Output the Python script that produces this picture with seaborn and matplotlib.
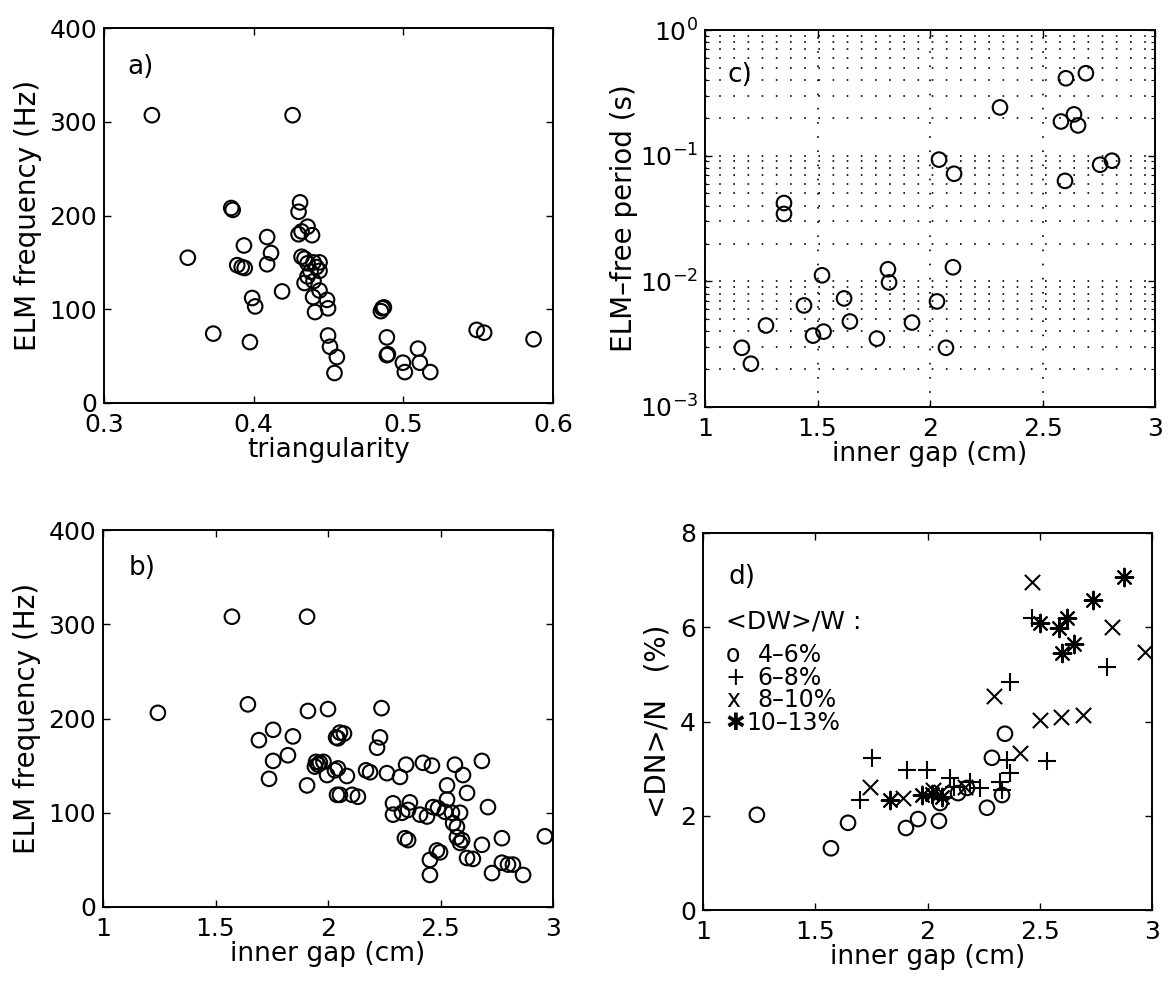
import matplotlib
matplotlib.use("Agg")
import matplotlib.pyplot as plt
import seaborn as sns
from matplotlib.ticker import LogLocator, NullFormatter, FixedLocator, FuncFormatter

# ---------------- data ----------------
# a) ELM frequency vs triangularity
tri_delta = [0.332, 0.426, 0.385, 0.386, 0.431, 0.430, 0.430, 0.432, 0.436, 0.439,
             0.409, 0.3935, 0.4116, 0.356, 0.409, 0.389, 0.392, 0.394,
             0.432, 0.434, 0.436, 0.440, 0.444, 0.444, 0.438, 0.434, 0.436, 0.440, 0.442,
             0.419, 0.399, 0.401, 0.4397, 0.441, 0.444, 0.449, 0.4497,
             0.373, 0.3975, 0.4497, 0.451, 0.4556, 0.454,
             0.486, 0.487, 0.485, 0.489, 0.4897, 0.489,
             0.4997, 0.501, 0.5098, 0.511, 0.518, 0.549, 0.554, 0.587]
tri_freq = [307, 307, 208, 206, 214, 204, 180, 183, 188, 179,
            177, 168, 160, 155, 148, 147, 145, 144,
            156, 154, 149, 150, 150, 141, 140, 128, 135, 130, 145,
            119, 112, 103, 113, 97, 120, 110, 101,
            74, 65, 72, 60, 49, 32,
            101, 102, 98, 70, 52, 51,
            43, 33, 58, 43, 33, 78, 75, 68]

# b) ELM frequency vs inner gap
gap_b = [1.573, 1.907, 1.244, 1.644, 1.911, 2.000, 2.238,
         1.756, 1.693, 1.844, 2.036, 2.053, 2.044, 2.071, 2.231, 2.218,
         1.756, 1.822, 1.738, 1.907,
         1.947, 1.964, 1.956, 1.942, 1.980, 1.996, 2.031, 2.044, 2.084,
         2.040, 2.053, 2.107, 2.133, 2.169, 2.187, 2.262, 2.320, 2.347,
         2.422, 2.462, 2.564, 2.684, 2.600, 2.529, 2.618, 2.529,
         2.289, 2.289, 2.364, 2.356, 2.329, 2.409, 2.440, 2.467, 2.489,
         2.520, 2.551, 2.587, 2.556, 2.573, 2.711,
         2.342, 2.356, 2.573, 2.596, 2.587, 2.684, 2.773, 2.964,
         2.484, 2.498, 2.453, 2.453, 2.618, 2.644, 2.729, 2.773, 2.800, 2.822, 2.867]
freq_b = [308, 308, 206, 215, 208, 210, 211,
          188, 177, 181, 180, 185, 179, 184, 180, 169,
          155, 161, 136, 129,
          154, 153, 151, 149, 154, 140, 145, 147, 139,
          119, 119, 119, 117, 145, 143, 142, 138, 151,
          153, 150, 151, 155, 140, 129, 121, 114,
          110, 98, 111, 103, 100, 98, 96, 106, 105,
          101, 100, 100, 89, 85, 106,
          73, 71, 74, 71, 68, 66, 73, 75,
          60, 58, 50, 34, 52, 51, 36, 47, 45, 45, 34]

# c) ELM-free period vs inner gap
gap_c = [2.604, 2.693, 2.311, 2.582, 2.640, 2.658,
         2.040, 2.107, 2.756, 2.809, 2.600,
         1.351, 1.351, 1.813, 1.818, 2.102, 1.520,
         1.618, 1.440, 2.031, 1.271, 1.644, 1.527,
         1.480, 1.920, 1.764, 2.071, 1.164, 1.204]
period_c = [0.413, 0.453, 0.242, 0.187, 0.213, 0.174,
            0.093, 0.0718, 0.0847, 0.0912, 0.063,
            0.042, 0.0344, 0.01247, 0.0098, 0.01294, 0.01117,
            0.00731, 0.00643, 0.00692, 0.00445, 0.00479, 0.00398,
            0.0037, 0.0047, 0.0035, 0.00296, 0.00296, 0.00221]

# d) density loss vs inner gap, grouped by energy loss <DW>/W
gap_d_4_6 = [1.24, 1.570, 1.646, 1.904, 1.958, 2.051, 2.056, 2.136, 2.176, 2.265, 2.332, 2.287, 2.345]
dn_d_4_6 = [2.02, 1.31, 1.85, 1.74, 1.93, 1.89, 2.27, 2.48, 2.59, 2.17, 2.44, 3.23, 3.74]
gap_d_6_8 = [1.753, 1.70, 1.909, 1.998, 2.10, 2.19, 2.234, 2.323, 2.367, 2.354, 2.367, 2.532, 2.465, 2.80, 2.12, 2.33]
dn_d_6_8 = [3.23, 2.34, 2.97, 2.97, 2.80, 2.72, 2.59, 2.72, 2.91, 3.18, 4.84, 3.16, 6.20, 5.16, 2.62, 2.55]
gap_d_8_10 = [1.744, 1.89, 2.025, 2.06, 2.167, 2.296, 2.41, 2.465, 2.50, 2.594, 2.693, 2.822, 2.969]
dn_d_8_10 = [2.62, 2.37, 2.55, 2.50, 2.62, 4.54, 3.33, 6.96, 4.03, 4.10, 4.14, 6.01, 5.48]
gap_d_10_13 = [1.833, 1.975, 2.065, 2.02, 2.50, 2.586, 2.62, 2.653, 2.60, 2.737, 2.875]
dn_d_10_13 = [2.34, 2.44, 2.40, 2.46, 6.09, 5.99, 6.20, 5.65, 5.46, 6.58, 7.07]

legend_title = "<DW>/W :"
legend_rows = [("o", "4–6%"), ("+", "6–8%"), ("x", "8–10%"), ("✱", "10–13%")]

# ---------------- style ----------------
sns.set_style("white")
plt.rcParams['font.family'] = ['DejaVu Sans']
plt.rcParams['mathtext.fontset'] = 'dejavusans'
for key in ("text.color", "axes.labelcolor", "xtick.color", "ytick.color", "axes.edgecolor"):
    plt.rcParams[key] = "black"

FS = 18       # tick labels
LFS = 19      # axis labels
YFS = 20      # vertical axis labels
KFS = 17      # key text inside panel d
W, H = 1171, 992
fig = plt.figure(figsize=(W / 100, H / 100), dpi=100)


def make_axes(l, t, r, b):
    return fig.add_axes([l / W, 1 - b / H, (r - l) / W, (b - t) / H])


ax_a = make_axes(104, 28, 553, 403)
ax_c = make_axes(705, 30, 1155, 407)
ax_b = make_axes(103, 530, 553, 907)
ax_d = make_axes(703, 533, 1152, 910)


def frame(ax):
    for s in ax.spines.values():
        s.set_visible(True)
        s.set_color("black")
        s.set_linewidth(1.4)
    ax.tick_params(which="both", direction="in", top=True, right=True,
                   bottom=True, left=True, colors="black", labelsize=FS)
    ax.tick_params(axis="y", which="both", pad=5)
    ax.tick_params(axis="x", which="both", pad=7)
    ax.tick_params(which="major", length=5, width=1.0)
    ax.tick_params(which="minor", length=3, width=0.8)
    ax.set_facecolor("white")


def gap_axis(ax):
    ax.set_xlim(1, 3)
    ax.set_xticks([1, 1.5, 2, 2.5, 3])
    ax.xaxis.set_major_formatter(FuncFormatter(lambda v, p: f"{v:g}"))
    ax.set_xlabel("inner gap (cm)", fontsize=LFS, labelpad=0)


ring = dict(marker="o", s=110, facecolor="none", edgecolor="black", linewidth=1.5)

# a)
sns.scatterplot(x=tri_delta, y=tri_freq, ax=ax_a, **ring)
ax_a.set_xlim(0.3, 0.6)
ax_a.set_ylim(0, 400)
ax_a.set_xticks([0.3, 0.4, 0.5, 0.6])
ax_a.set_yticks([0, 100, 200, 300, 400])
ax_a.xaxis.set_major_formatter(FuncFormatter(lambda v, p: f"{v:.1f}"))
ax_a.set_xlabel("triangularity", fontsize=LFS, labelpad=0)
ax_a.set_ylabel("ELM frequency (Hz)", fontsize=YFS, labelpad=5)
ax_a.text(0.053, 0.896, "a)", transform=ax_a.transAxes, fontsize=LFS, va="center")
frame(ax_a)

# b)
sns.scatterplot(x=gap_b, y=freq_b, ax=ax_b, **ring)
gap_axis(ax_b)
ax_b.set_ylim(0, 400)
ax_b.set_yticks([0, 100, 200, 300, 400])
ax_b.set_ylabel("ELM frequency (Hz)", fontsize=YFS, labelpad=5)
ax_b.text(0.056, 0.90, "b)", transform=ax_b.transAxes, fontsize=LFS, va="center")
frame(ax_b)

# c)
sns.scatterplot(x=gap_c, y=period_c, ax=ax_c, **ring)
ax_c.set_yscale("log")
gap_axis(ax_c)
ax_c.set_ylim(1e-3, 1)
ax_c.yaxis.set_major_locator(LogLocator(base=10, numticks=10))
ax_c.yaxis.set_minor_locator(LogLocator(base=10, subs=range(2, 10), numticks=20))
ax_c.yaxis.set_minor_formatter(NullFormatter())
ax_c.set_ylabel("ELM–free period (s)", fontsize=YFS, labelpad=1)
ax_c.xaxis.set_minor_locator(FixedLocator([]))
grid_kw = dict(color="black", linestyle=(0, (1.0, 7.5)), linewidth=1.2)
ax_c.grid(True, which="both", axis="y", **grid_kw)
ax_c.grid(True, which="major", axis="x", **grid_kw)
ax_c.set_axisbelow(True)
ax_c.text(0.051, 0.88, "c)", transform=ax_c.transAxes, fontsize=LFS, va="center")
frame(ax_c)

# d)
sns.scatterplot(x=gap_d_4_6, y=dn_d_4_6, ax=ax_d, **ring)
sns.scatterplot(x=gap_d_6_8, y=dn_d_6_8, ax=ax_d, marker="+", s=160,
                color="black", linewidth=1.5)
sns.scatterplot(x=gap_d_8_10, y=dn_d_8_10, ax=ax_d, marker="x", s=120,
                color="black", linewidth=1.5)
sns.scatterplot(x=gap_d_10_13, y=dn_d_10_13, ax=ax_d, marker=(8, 2, 0), s=160,
                color="black", edgecolor="black", linewidth=1.5)
gap_axis(ax_d)
ax_d.set_ylim(0, 8)
ax_d.set_yticks([0, 2, 4, 6, 8])
ax_d.set_ylabel("<DN>/N   (%)", fontsize=YFS, labelpad=6)
ax_d.text(0.056, 0.883, "d)", transform=ax_d.transAxes, fontsize=LFS, va="center")
ax_d.text(0.051, 0.764, legend_title, transform=ax_d.transAxes, fontsize=KFS + 1, va="center")
row_y = [0.676, 0.615, 0.557, 0.496]
for (sym, lab), yy in zip(legend_rows, row_y):
    ax_d.text(0.051, yy, sym, transform=ax_d.transAxes, fontsize=KFS, va="center",
              fontweight="bold" if sym == "✱" else "normal")
    ax_d.text(0.122 if lab != "10–13%" else 0.097, yy, lab, transform=ax_d.transAxes,
              fontsize=KFS, va="center")
frame(ax_d)

fig.savefig("out.png", dpi=100, facecolor="white")
